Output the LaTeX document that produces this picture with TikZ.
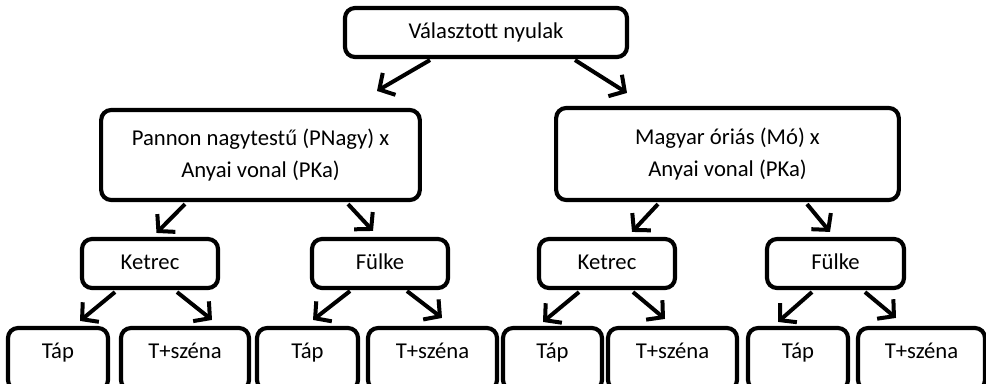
\documentclass[tikz,border=0pt]{standalone}
\usepackage{fontspec}
\setmainfont{Carlito}
\usepackage{tikz}
\usetikzlibrary{arrows.meta,calc}

\tikzset{
  box/.style={draw, line width=3.1pt, rounded corners=7.5pt, align=center, inner sep=0pt,
    font=\fontsize{17}{24.5}\selectfont},
  leaf/.style={box, minimum height=46.5pt, text height=12pt, text depth=13pt},
  mid/.style={box, minimum height=36.75pt, text height=12pt, text depth=3.5pt},
  arr/.style={line width=3pt, -{Straight Barb[length=8.5pt,width=19pt]}}
}

\begin{document}
\begin{tikzpicture}[x=0.75pt,y=0.75pt]
\useasboundingbox (0,0) rectangle (986,-383);
\clip (0,0) rectangle (986,-383);
% top
\node[box, minimum width=211.5pt, minimum height=36.75pt] (top) at (486,-32.5) {Választott nyulak};
% crosses
\node[box, minimum width=239pt, minimum height=67.5pt] (pannon) at (260.5,-155) {Pannon nagytestű (PNagy) x\\Anyai vonal (PKa)};
\node[box, minimum width=257pt, minimum height=69pt] (magyar) at (727.5,-154) {Magyar óriás (Mó) x\\Anyai vonal (PKa)};
% housing
\node[mid, minimum width=102pt] (ket1) at (150,-263.5) {Ketrec};
\node[mid, minimum width=102pt] (fulke1) at (380,-263.5) {Fülke};
\node[mid, minimum width=102pt] (ket2) at (607,-263.5) {Ketrec};
\node[mid, minimum width=102.75pt] (fulke2) at (835.5,-263.5) {Fülke};
% feeding
\node[leaf, minimum width=75pt] (tap1) at (58,-359) {Táp};
\node[leaf, minimum width=96pt] (tsz1) at (185,-359) {T+széna};
\node[leaf, minimum width=75.75pt] (tap2) at (307.5,-359) {Táp};
\node[leaf, minimum width=96.75pt] (tsz2) at (432.5,-359) {T+széna};
\node[leaf, minimum width=74.25pt] (tap3) at (552.5,-359) {Táp};
\node[leaf, minimum width=96.75pt] (tsz3) at (672.5,-359) {T+széna};
\node[leaf, minimum width=75pt] (tap4) at (798,-359) {Táp};
\node[leaf, minimum width=95.25pt] (tsz4) at (921.5,-359) {T+széna};

% arrows
\draw[arr] ($(top.south)+(-56,-1)$) -- ($(pannon.north)+(116.5,17)$);
\draw[arr] ($(top.south)+(89,-1)$) -- ($(magyar.north)+(-100.5,13)$);
\draw[arr] ($(pannon.south)+(-75.5,-2)$) -- ($(ket1.north)+(6.5,4)$);
\draw[arr] ($(pannon.south)+(87.5,-2)$) -- ($(fulke1.north)+(-7,6)$);
\draw[arr] ($(magyar.south)+(-69.5,-2)$) -- ($(ket2.north)+(25,5)$);
\draw[arr] ($(magyar.south)+(79.5,-2)$) -- ($(fulke2.north)+(-5.5,5)$);
\draw[arr] ($(ket1.south)+(-35,-2)$) -- ($(tap1.north)+(22,5)$);
\draw[arr] ($(ket1.south)+(27,-2)$) -- ($(tsz1.north)+(27,6)$);
\draw[arr] ($(fulke1.south)+(-30,-1)$) -- ($(tap2.north)+(5.5,6)$);
\draw[arr] ($(fulke1.south)+(27,-1)$) -- ($(tsz2.north)+(9.5,8)$);
\draw[arr] ($(ket2.south)+(-28,-2)$) -- ($(tap3.north)+(-9.5,4)$);
\draw[arr] ($(ket2.south)+(26,-2)$) -- ($(tsz3.north)+(-7.5,7)$);
\draw[arr] ($(fulke2.south)+(-23.5,-2)$) -- ($(tap4.north)+(-20,4)$);
\draw[arr] ($(fulke2.south)+(29.5,-2)$) -- ($(tsz4.north)+(-25.5,8)$);
\end{tikzpicture}
\end{document}
